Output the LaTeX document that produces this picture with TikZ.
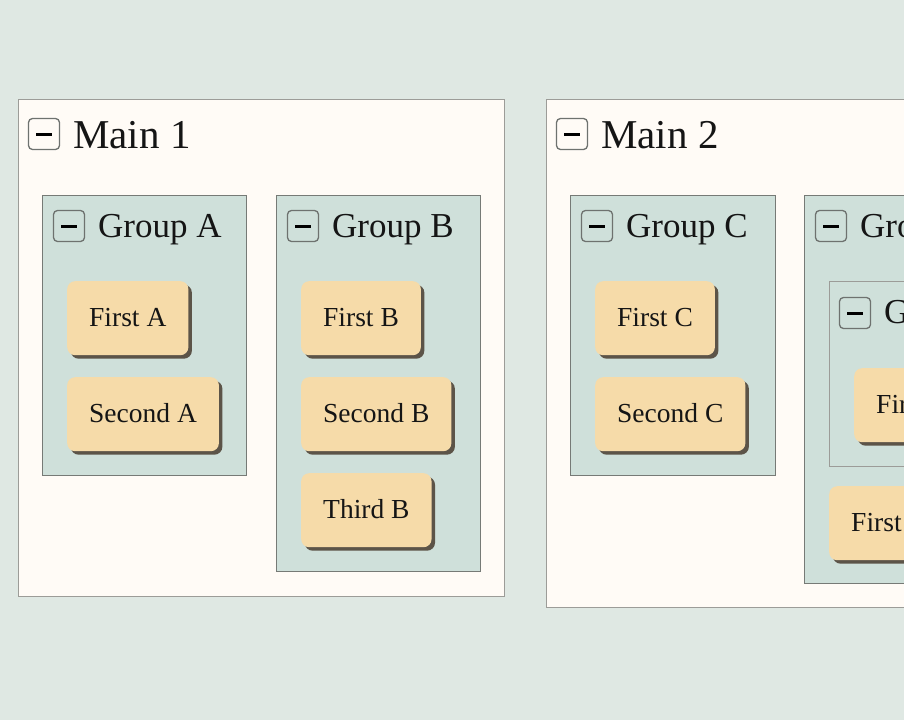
\documentclass[tikz,border=0pt]{standalone}
\usepackage{fontspec}
\usetikzlibrary{shadows}
\newfontfamily\diaserif{Liberation Serif}
\definecolor{pagebg}{HTML}{DFE8E3}
\definecolor{mainfill}{HTML}{FFFBF6}
\definecolor{maingray}{HTML}{9C9C98}
\definecolor{groupfill}{HTML}{CFE0DA}
\definecolor{groupgray}{HTML}{767A76}
\definecolor{togglegray}{HTML}{6E726F}
\definecolor{cardfill}{HTML}{F6DBA9}
\definecolor{shadowcol}{HTML}{5C5448}
\definecolor{inkcol}{HTML}{151515}
\tikzset{
  mainbox/.style={draw=maingray, line width=1.3pt, fill=mainfill, anchor=north west, inner sep=0pt},
  groupbox/.style={draw=groupgray, line width=1pt, fill=groupfill, anchor=north west, inner sep=0pt},
  togglebox/.style={draw=togglegray, line width=1.3pt, rounded corners=4pt, minimum size=31pt, inner sep=0pt},
  maintitle/.style={anchor=base west, inner sep=0pt, text=inkcol, font={\diaserif\fontsize{41}{48}\selectfont}},
  grouptitle/.style={anchor=base west, inner sep=0pt, text=inkcol, font={\diaserif\fontsize{35}{42}\selectfont}},
  card/.style={fill=cardfill, rounded corners=8pt, anchor=north west, inner xsep=22pt, inner ysep=0pt,
    minimum height=74pt, text height=16pt, text depth=0pt, text=inkcol,
    font={\diaserif\fontsize{27.5}{33}\selectfont},
    general shadow={shadow xshift=3.5pt, shadow yshift=-3.5pt, fill=shadowcol, draw=none}},
}
\newcommand{\minusbar}{\textcolor{black}{\rule{16pt}{3pt}}}
\begin{document}
\begin{tikzpicture}[x=1pt, y=-1pt]
\useasboundingbox (0,0) rectangle (904,720);
\fill[pagebg] (0,0) rectangle (904,720);

% Main 1
\node[mainbox, minimum width=486pt, minimum height=497pt] (m1) at (18,99) {};
\node[togglebox] (m1tog) at (44,134) {\minusbar};
\node[maintitle] (m1t) at (73,148) {Main 1};

% Group A
\node[groupbox, minimum width=204pt, minimum height=280pt] (ga) at (42,195) {};
\node[togglebox] (gatog) at (69,226) {\minusbar};
\node[grouptitle] (gat) at (98,237) {Group A};
\node[card] (fa) at (67,281) {First A};
\node[card] (sa) at (67,377) {Second A};

% Group B
\node[groupbox, minimum width=204pt, minimum height=376pt] (gb) at (276,195) {};
\node[togglebox] (gbtog) at (303,226) {\minusbar};
\node[grouptitle] (gbt) at (332,237) {Group B};
\node[card] (fb) at (301,281) {First B};
\node[card] (sb) at (301,377) {Second B};
\node[card] (tb) at (301,473) {Third B};

% Main 2
\node[mainbox, minimum width=600pt, minimum height=508pt] (m2) at (546,99) {};
\node[togglebox] (m2tog) at (572,134) {\minusbar};
\node[maintitle] (m2t) at (601,148) {Main 2};

% Group C
\node[groupbox, minimum width=205pt, minimum height=280pt] (gc) at (570,195) {};
\node[togglebox] (gctog) at (597,226) {\minusbar};
\node[grouptitle] (gct) at (626,237) {Group C};
\node[card] (fc) at (595,281) {First C};
\node[card] (sc) at (595,377) {Second C};

% Group D (cut off at the right)
\node[groupbox, minimum width=220pt, minimum height=388pt] (gd) at (804,195) {};
\node[togglebox] (gdtog) at (831,226) {\minusbar};
\node[grouptitle] (gdt) at (860,237) {Gro};
\node[groupbox, draw=maingray, minimum width=180pt, minimum height=185pt] (ge) at (829,281) {};
\node[togglebox] (getog) at (855,313) {\minusbar};
\node[grouptitle] (get) at (884,323) {G};
\node[card] (fe) at (854,368) {Fir};
\node[card] (fd) at (829,486) {First};
\end{tikzpicture}
\end{document}
